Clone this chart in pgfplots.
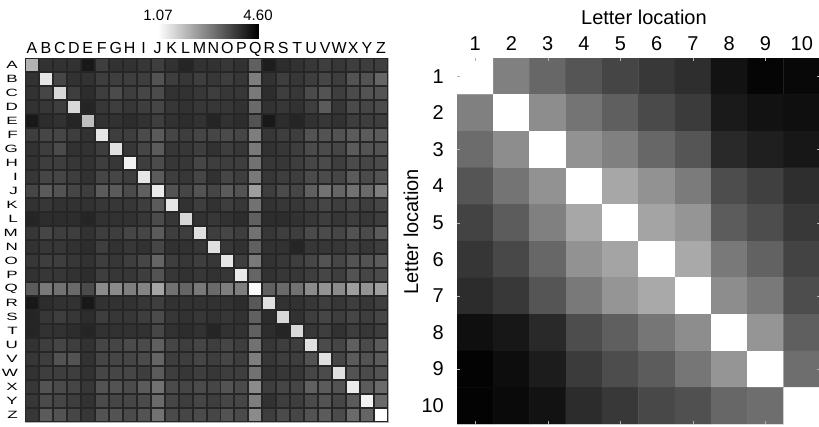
\documentclass[border=0pt]{standalone}
\usepackage{graphicx}
\usepackage{pgfplots}
\pgfplotsset{compat=1.18}
\usepackage{pgfplotstable}
\usepackage{fontspec}
\setmainfont{Liberation Sans}

% Letter-by-letter dissimilarity (rows: first letter A..Z, columns c0..c25: second letter A..Z)
\pgfplotstableread{
c0 c1 c2 c3 c4 c5 c6 c7 c8 c9 c10 c11 c12 c13 c14 c15 c16 c17 c18 c19 c20 c21 c22 c23 c24 c25
2.13 3.89 3.89 3.89 4.25 3.72 3.89 3.89 3.82 3.72 3.89 4.07 3.89 3.89 3.82 3.89 3.26 4.18 3.96 3.89 3.82 3.72 3.82 3.72 3.72 3.72
3.89 1.42 3.61 3.89 3.89 3.72 3.72 3.72 3.72 3.44 3.72 3.82 3.72 3.82 3.72 3.82 2.84 3.89 3.72 3.82 3.72 3.61 3.72 3.44 3.44 3.19
3.89 3.61 1.60 3.72 3.96 3.72 3.54 3.72 3.61 3.54 3.89 3.89 3.82 3.72 3.82 3.82 2.91 3.96 3.72 3.82 3.54 3.44 3.72 3.54 3.44 3.44
3.89 3.82 3.72 1.60 4.07 3.82 3.72 3.82 3.72 3.61 3.82 3.89 3.82 3.82 3.82 3.89 3.12 3.89 3.82 3.89 3.72 3.33 3.82 3.54 3.61 3.54
4.25 3.96 3.89 4.07 1.95 3.89 3.89 3.96 3.89 3.72 3.89 3.96 3.89 4.07 3.89 3.96 3.44 4.25 3.96 4.07 3.89 3.82 3.89 3.72 3.72 3.72
3.72 3.61 3.61 3.72 3.89 1.42 3.72 3.72 3.54 3.33 3.61 3.72 3.61 3.61 3.54 3.61 2.84 3.82 3.72 3.72 3.44 3.44 3.44 3.33 3.33 3.33
3.89 3.72 3.54 3.89 3.89 3.72 1.49 3.82 3.61 3.33 3.82 3.82 3.72 3.89 3.72 3.82 2.91 3.89 3.82 3.72 3.54 3.54 3.61 3.33 3.44 3.44
3.89 3.72 3.72 3.82 3.89 3.72 3.82 1.25 3.72 3.54 3.82 3.82 3.61 3.72 3.72 3.72 3.01 3.82 3.82 3.72 3.61 3.54 3.72 3.54 3.61 3.54
3.82 3.61 3.61 3.72 3.89 3.61 3.61 3.72 1.42 3.33 3.72 3.82 3.61 3.89 3.61 3.72 2.91 3.82 3.72 3.72 3.54 3.54 3.61 3.33 3.54 3.44
3.61 3.33 3.44 3.61 3.72 3.33 3.33 3.54 3.26 1.35 3.44 3.61 3.44 3.61 3.33 3.44 2.41 3.72 3.54 3.61 3.26 3.01 3.19 3.01 3.12 2.84
3.89 3.82 3.89 3.89 3.89 3.82 3.82 3.82 3.72 3.33 1.42 3.89 3.72 3.89 3.72 3.82 3.01 3.89 3.82 3.82 3.72 3.61 3.72 3.61 3.72 3.61
4.07 3.96 3.96 3.96 4.07 3.89 3.89 3.89 3.82 3.54 3.82 1.60 3.89 3.82 3.89 3.96 3.26 3.96 3.96 3.89 3.82 3.72 3.82 3.72 3.82 3.72
3.82 3.61 3.72 3.72 3.89 3.72 3.72 3.61 3.61 3.33 3.72 3.72 1.49 3.72 3.61 3.72 3.01 3.82 3.72 3.72 3.54 3.54 3.61 3.44 3.54 3.33
3.89 3.82 3.82 3.89 3.96 3.72 3.89 3.82 3.89 3.61 3.89 3.89 3.82 1.49 3.82 3.89 3.26 3.89 3.89 4.07 3.82 3.82 3.82 3.72 3.82 3.72
3.82 3.72 3.72 3.82 3.89 3.72 3.82 3.72 3.61 3.19 3.72 3.82 3.72 3.82 1.42 3.72 2.91 3.89 3.82 3.72 3.61 3.44 3.61 3.44 3.44 3.33
3.89 3.82 3.82 3.89 3.96 3.72 3.82 3.82 3.72 3.44 3.82 3.89 3.82 3.89 3.82 1.35 3.19 3.89 3.82 3.82 3.72 3.61 3.72 3.44 3.61 3.54
3.33 2.91 3.01 3.12 3.54 2.66 2.66 2.84 2.76 2.31 3.01 3.19 2.91 3.12 2.84 2.84 1.14 3.26 3.12 3.01 2.66 2.55 2.66 2.41 2.55 2.41
4.25 3.96 3.89 3.89 4.25 3.89 3.89 3.89 3.82 3.72 3.89 3.89 3.89 3.89 3.89 3.96 3.36 1.49 3.89 3.89 3.82 3.72 3.82 3.72 3.82 3.72
4.07 3.82 3.72 3.82 3.96 3.72 3.82 3.82 3.72 3.54 3.82 3.89 3.82 3.89 3.82 3.89 3.26 3.96 1.60 3.89 3.72 3.61 3.72 3.61 3.72 3.61
4.07 3.89 3.89 3.96 4.07 3.89 3.89 3.89 3.89 3.61 3.89 3.96 3.89 4.07 3.89 3.89 3.26 3.96 4.07 1.60 3.82 3.72 3.89 3.72 3.82 3.72
3.89 3.72 3.61 3.72 3.89 3.61 3.61 3.54 3.54 3.26 3.61 3.72 3.61 3.72 3.61 3.72 3.01 3.82 3.72 3.72 1.49 3.54 3.61 3.26 3.54 3.33
3.82 3.72 3.44 3.44 3.89 3.61 3.61 3.61 3.54 3.19 3.72 3.72 3.61 3.72 3.61 3.72 2.84 3.82 3.72 3.72 3.44 1.49 3.61 3.33 3.44 3.33
3.89 3.72 3.72 3.72 3.89 3.61 3.61 3.61 3.72 3.33 3.72 3.82 3.72 3.82 3.72 3.72 3.01 3.89 3.82 3.82 3.61 3.54 1.49 3.44 3.54 3.44
3.82 3.44 3.54 3.61 3.82 3.44 3.44 3.54 3.33 3.01 3.54 3.61 3.54 3.61 3.44 3.54 2.66 3.72 3.61 3.61 3.26 3.33 3.44 1.35 3.33 3.12
3.82 3.54 3.61 3.72 3.89 3.54 3.61 3.61 3.54 3.12 3.61 3.72 3.61 3.72 3.61 3.61 2.84 3.89 3.72 3.72 3.54 3.44 3.61 3.33 1.25 3.12
3.82 3.33 3.44 3.61 3.82 3.44 3.44 3.54 3.44 3.01 3.54 3.61 3.54 3.61 3.44 3.54 2.66 3.72 3.54 3.61 3.44 3.33 3.54 3.12 3.19 1.07
}\lettermat

\pgfplotsset{
  colormap={whiteblack}{gray(0cm)=(1); gray(1cm)=(0)},
  colormap={blackwhite2}{gray(0cm)=(0); gray(1cm)=(1)},
}
% row letters are set flattened to fit the 26 rows
\newcommand{\squashed}[1]{\scalebox{1}[0.62]{#1}}

\begin{document}
\begin{tikzpicture}
\path[use as bounding box] (0,0) rectangle (819pt,426pt);

% colour scale above the letter matrix
\begin{axis}[
  at={(158pt,387pt)}, anchor=south west,
  width=100pt, height=15pt, scale only axis,
  xmin=1.07, xmax=4.60, ymin=0, ymax=1,
  ytick=\empty, xtick={1.07,4.60}, xticklabels={1.07,4.60},
  xticklabel pos=upper, major tick length=0pt,
  axis line style={draw=none},
  colormap name=whiteblack, point meta min=1.07, point meta max=4.60,
  xticklabel style={font=\fontsize{15}{18}\selectfont, anchor=base, yshift=3pt, inner sep=0pt},
]
\addplot[surf, shader=interp, point meta=x] coordinates {
(1.07,0) (4.60,0)

(1.07,1) (4.60,1)
};
\end{axis}

% letter confusion matrix
\begin{axis}[
  at={(25pt,4pt)}, anchor=south west,
  width=363pt, height=364pt, scale only axis,
  xmin=-0.5, xmax=25.5, ymin=-0.5, ymax=25.5, y dir=reverse,
  clip=false,
  xtick={0,...,25}, ytick={0,...,25},
  xticklabels={A,B,C,D,E,F,G,H,I,J,K,L,M,N,O,P,Q,R,S,T,U,V,W,X,Y,Z},
  yticklabels={\squashed{A},\squashed{B},\squashed{C},\squashed{D},\squashed{E},\squashed{F},\squashed{G},\squashed{H},\squashed{I},\squashed{J},\squashed{K},\squashed{L},\squashed{M},\squashed{N},\squashed{O},\squashed{P},\squashed{Q},\squashed{R},\squashed{S},\squashed{T},\squashed{U},\squashed{V},\squashed{W},\squashed{X},\squashed{Y},\squashed{Z}},
  xticklabel pos=upper, major tick length=0pt,
  axis line style={gray!60},
  colormap name=whiteblack, point meta min=1.07, point meta max=4.60,
  xticklabel style={font=\fontsize{16}{19}\selectfont, anchor=base, yshift=5pt, inner sep=0pt},
  yticklabel style={font=\fontsize{17}{20}\selectfont, anchor=east, xshift=-7pt, inner sep=0pt},
]
\pgfplotsinvokeforeach{0,...,25}{
  \addplot[scatter, only marks, mark=square*, mark size=6.5pt,
    point meta=explicit,
    scatter/use mapped color={draw=black!85, fill=mapped color, line width=0.95pt}]
    table[x expr=#1, y expr=\coordindex, meta=c#1] {\lettermat};
}
\end{axis}

% letter location similarity
\begin{axis}[
  at={(457pt,2pt)}, anchor=south west,
  width=363pt, height=366pt, scale only axis,
  xmin=0.5, xmax=10.5, ymin=0.5, ymax=10.5, y dir=reverse,
  xtick={1,...,10}, ytick={1,...,10},
  xticklabels={1,2,3,4,5,6,7,8,9,10},
  yticklabels={1,2,3,4,5,6,7,8,9,10},
  xticklabel pos=upper, major tick length=0pt,
  extra x ticks={1,3,5,7,9}, extra y ticks={1,3,5,7,9},
  extra x tick labels={}, extra y tick labels={},
  extra tick style={major tick length=3pt, tick style={white!70!black}},
  axis line style={draw=none}, axis on top,
  colormap name=blackwhite2, point meta min=0, point meta max=1,
  xticklabel style={font=\fontsize{20}{24}\selectfont, anchor=base, yshift=8pt, inner sep=0pt},
  yticklabel style={font=\fontsize{20}{24}\selectfont, anchor=east, xshift=-13pt, inner sep=0pt},
  xlabel={Letter location}, ylabel={Letter location},
  xlabel style={font=\fontsize{20}{24}\selectfont, at={(axis description cs:0.515,1)}, anchor=base, yshift=34pt, inner sep=0pt},
  ylabel style={font=\fontsize{20}{24}\selectfont, at={(axis description cs:-0.127,0.525)}, anchor=center, inner sep=0pt},
]
\addplot[matrix plot*, mesh/cols=10, point meta=explicit] coordinates {
(1,1)[1.00] (2,1)[0.50] (3,1)[0.40] (4,1)[0.33] (5,1)[0.27] (6,1)[0.22] (7,1)[0.18] (8,1)[0.07] (9,1)[0.02] (10,1)[0.03]
(1,2)[0.50] (2,2)[1.00] (3,2)[0.55] (4,2)[0.45] (5,2)[0.37] (6,2)[0.29] (7,2)[0.23] (8,2)[0.10] (9,2)[0.07] (10,2)[0.06]
(1,3)[0.42] (2,3)[0.55] (3,3)[1.00] (4,3)[0.57] (5,3)[0.50] (6,3)[0.40] (7,3)[0.33] (8,3)[0.16] (9,3)[0.12] (10,3)[0.09]
(1,4)[0.33] (2,4)[0.45] (3,4)[0.57] (4,4)[1.00] (5,4)[0.65] (6,4)[0.57] (7,4)[0.48] (8,4)[0.30] (9,4)[0.25] (10,4)[0.18]
(1,5)[0.26] (2,5)[0.36] (3,5)[0.50] (4,5)[0.65] (5,5)[1.00] (6,5)[0.64] (7,5)[0.58] (8,5)[0.36] (9,5)[0.30] (10,5)[0.22]
(1,6)[0.21] (2,6)[0.28] (3,6)[0.40] (4,6)[0.57] (5,6)[0.64] (6,6)[1.00] (7,6)[0.66] (8,6)[0.47] (9,6)[0.38] (10,6)[0.26]
(1,7)[0.17] (2,7)[0.22] (3,7)[0.33] (4,7)[0.47] (5,7)[0.58] (6,7)[0.66] (7,7)[1.00] (8,7)[0.55] (9,7)[0.47] (10,7)[0.30]
(1,8)[0.06] (2,8)[0.09] (3,8)[0.16] (4,8)[0.30] (5,8)[0.37] (6,8)[0.46] (7,8)[0.55] (8,8)[1.00] (9,8)[0.58] (10,8)[0.37]
(1,9)[0.01] (2,9)[0.05] (3,9)[0.11] (4,9)[0.23] (5,9)[0.30] (6,9)[0.36] (7,9)[0.46] (8,9)[0.58] (9,9)[1.00] (10,9)[0.43]
(1,10)[0.01] (2,10)[0.04] (3,10)[0.07] (4,10)[0.17] (5,10)[0.22] (6,10)[0.28] (7,10)[0.31] (8,10)[0.40] (9,10)[0.43] (10,10)[1.00]
};
\end{axis}
\end{tikzpicture}
\end{document}
